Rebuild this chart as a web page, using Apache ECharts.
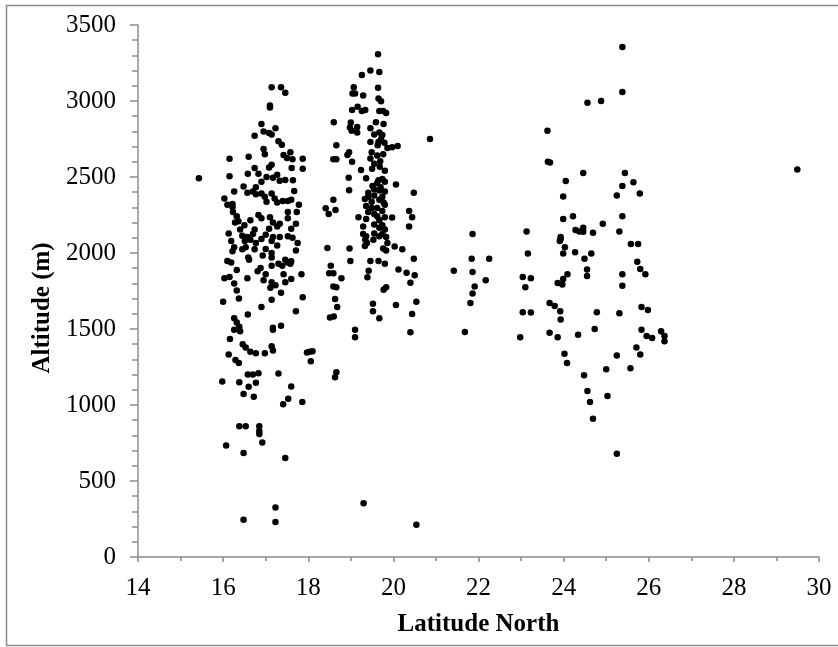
<!DOCTYPE html>
<html>
<head>
<meta charset="utf-8">
<script src="https://cdn.jsdelivr.net/npm/echarts@6/dist/echarts.min.js"></script>
<style>
  html, body { margin: 0; padding: 0; background: #fff; }
  #chart { width: 838px; height: 647px; }
</style>
</head>
<body>
<div id="chart"></div>
<script>
// axes
const xTicks = [14, 16, 18, 20, 22, 24, 26, 28, 30];
const yTicks = [0, 500, 1000, 1500, 2000, 2500, 3000, 3500];

// [latitude, altitude], grouped by band
const outliers = [[15.43, 2492], [29.49, 2549], [20.86, 2750]];

const band16to18 = [
  [17.14, 3090], [17.36, 3090], [17.46, 3055], [17.1, 2970], [17.1, 2957], [16.9, 2848],
  [17.23, 2820], [16.74, 2772], [16.95, 2800], [17.08, 2790], [17.14, 2780], [17.3, 2736],
  [17.38, 2712], [16.95, 2685], [16.98, 2650], [16.6, 2633], [16.15, 2620], [17.42, 2644],
  [17.5, 2625], [17.58, 2663], [17.63, 2617], [17.87, 2620], [17.87, 2554], [17.08, 2562],
  [17.14, 2581], [16.74, 2560], [16.83, 2522], [16.58, 2522], [17.61, 2560], [16.15, 2505],
  [17.02, 2500], [17.17, 2495], [17.27, 2514], [17.33, 2476], [17.46, 2481], [17.64, 2479],
  [16.9, 2468], [16.77, 2432], [16.48, 2438], [16.26, 2405], [16.57, 2397], [16.7, 2405],
  [16.77, 2386], [16.9, 2391], [16.98, 2370], [17.14, 2391], [17.67, 2408], [16.03, 2359],
  [16.1, 2318], [16.22, 2323], [16.22, 2302], [17.02, 2337], [17.21, 2359], [17.27, 2332],
  [17.4, 2342], [17.52, 2342], [17.6, 2350], [17.78, 2318], [16.23, 2269], [16.32, 2242],
  [16.83, 2250], [17.1, 2236], [17.52, 2269], [17.73, 2269], [16.28, 2201], [16.36, 2209],
  [16.64, 2215], [16.9, 2228], [17.17, 2201], [17.33, 2193], [17.52, 2228], [17.71, 2193],
  [16.5, 2182], [16.74, 2155], [16.4, 2155], [17.08, 2160], [17.27, 2174], [17.6, 2160],
  [16.13, 2128], [16.45, 2114], [16.57, 2106], [16.7, 2125], [17.0, 2120], [17.17, 2106],
  [17.33, 2106], [17.52, 2111], [17.63, 2101], [16.19, 2079], [16.51, 2079], [16.64, 2087],
  [16.77, 2065], [16.9, 2092], [17.14, 2079], [17.27, 2049], [17.75, 2065], [16.26, 2038],
  [16.45, 2024], [16.53, 2038], [16.74, 2024], [17.0, 2027], [16.22, 2011], [17.14, 2000],
  [17.71, 2016], [16.59, 1970], [16.61, 1956], [16.93, 1983], [17.14, 1970], [17.46, 1956],
  [17.52, 1937], [17.3, 1929], [16.1, 1948], [16.19, 1937], [17.58, 1929], [17.6, 1945],
  [17.14, 1916], [17.39, 1916], [16.32, 1888], [16.81, 1880], [16.88, 1902], [17.0, 1861],
  [17.42, 1861], [17.84, 1861], [16.03, 1834], [16.15, 1842], [16.57, 1834], [16.95, 1820],
  [17.14, 1807], [17.46, 1807], [17.6, 1829], [16.26, 1799], [17.23, 1788], [16.32, 1753],
  [17.11, 1772], [17.36, 1739], [16.37, 1701], [16.0, 1679], [17.14, 1693], [17.87, 1709],
  [16.9, 1644], [16.58, 1595], [17.71, 1617], [16.26, 1571], [16.32, 1543], [16.38, 1514],
  [16.26, 1495], [16.4, 1486], [17.17, 1508], [17.17, 1495], [17.36, 1522], [16.16, 1435],
  [16.46, 1400], [16.53, 1378], [16.64, 1351], [16.77, 1340], [16.98, 1340], [17.14, 1386],
  [17.17, 1359], [16.13, 1332], [16.29, 1296], [16.37, 1277], [17.97, 1345], [18.03, 1351],
  [18.1, 1353], [18.06, 1288], [17.86, 1019], [16.58, 1201], [16.7, 1201], [16.83, 1209],
  [17.3, 1207], [17.6, 1122], [15.98, 1155], [16.38, 1150], [16.6, 1120], [16.77, 1147],
  [16.48, 1073], [16.72, 1054], [17.53, 1041], [17.41, 1005], [16.38, 861], [16.53, 861],
  [16.85, 861], [16.85, 829], [16.85, 810], [16.92, 753], [16.07, 734], [16.48, 685],
  [17.46, 652], [17.23, 326], [16.48, 245], [17.23, 231]
];

const band18to21 = [
  [19.64, 3307], [19.46, 3201], [19.67, 3190], [19.26, 3171], [19.07, 3090], [19.64, 3087],
  [19.04, 3049], [19.1, 3049], [19.29, 3036], [19.65, 3017], [19.71, 2998], [19.16, 2962],
  [19.03, 2940], [19.26, 2935], [19.34, 2940], [19.67, 2935], [19.76, 2935], [19.83, 2921],
  [18.6, 2861], [19.59, 2861], [19.77, 2848], [19.0, 2859], [18.98, 2826], [19.02, 2804],
  [19.15, 2829], [19.15, 2793], [19.46, 2821], [19.67, 2793], [19.74, 2777], [19.55, 2780],
  [19.71, 2750], [19.46, 2731], [19.65, 2731], [19.79, 2725], [18.66, 2709], [19.63, 2709],
  [19.97, 2696], [20.1, 2704], [19.86, 2690], [19.49, 2663], [18.96, 2663], [18.92, 2644],
  [19.76, 2649], [19.62, 2641], [19.46, 2622], [19.69, 2603], [19.55, 2587], [18.59, 2617],
  [18.66, 2617], [19.03, 2600], [19.68, 2568], [19.8, 2541], [19.24, 2546], [19.5, 2554],
  [18.95, 2495], [19.36, 2492], [19.65, 2479], [19.74, 2487], [19.62, 2460], [19.8, 2468],
  [20.06, 2451], [19.51, 2440], [19.7, 2432], [19.55, 2419], [18.96, 2413], [19.41, 2397],
  [19.67, 2411], [19.8, 2405], [19.41, 2370], [19.55, 2378], [19.74, 2370], [20.48, 2397],
  [19.33, 2356], [19.67, 2351], [18.59, 2351], [19.49, 2337], [19.77, 2332], [19.8, 2318],
  [18.41, 2294], [18.64, 2283], [19.36, 2310], [19.49, 2296], [19.62, 2296], [19.74, 2277],
  [20.37, 2277], [18.48, 2256], [19.18, 2236], [19.41, 2269], [19.55, 2256], [19.62, 2242],
  [19.8, 2236], [19.97, 2234], [20.44, 2236], [19.36, 2223], [19.67, 2215], [19.55, 2188],
  [19.74, 2182], [19.67, 2166], [20.37, 2174], [19.29, 2174], [19.8, 2155], [19.55, 2128],
  [19.74, 2125], [19.29, 2125], [19.36, 2111], [19.67, 2111], [19.83, 2106], [19.53, 2087],
  [19.34, 2087], [19.38, 2065], [19.86, 2065], [19.33, 2046], [18.45, 2033], [18.97, 2030],
  [20.03, 2043], [19.76, 2030], [20.21, 2024], [19.83, 2016], [20.48, 1962], [18.99, 1948],
  [19.46, 1948], [19.65, 1948], [19.8, 1929], [19.42, 1883], [20.12, 1891], [20.31, 1870],
  [20.5, 1853], [18.53, 1916], [18.49, 1867], [18.59, 1867], [18.78, 1834], [19.39, 1840],
  [18.59, 1780], [18.66, 1774], [19.83, 1774], [20.4, 1804], [19.77, 1758], [18.63, 1698],
  [20.54, 1679], [19.52, 1666], [20.06, 1658], [18.68, 1644], [19.52, 1617], [20.44, 1598],
  [18.51, 1576], [18.6, 1582], [19.67, 1571], [19.1, 1495], [19.1, 1446], [20.4, 1478],
  [18.66, 1215], [18.63, 1182], [19.3, 353], [20.54, 212]
];

const band21to23 = [
  [21.42, 1883], [21.86, 2125], [21.84, 1962], [21.86, 1875], [21.91, 1780], [21.86, 1734],
  [21.81, 1671], [22.25, 1962], [22.17, 1821], [21.68, 1481]
];

const band23to27 = [
  [23.13, 2141], [23.16, 1997], [23.04, 1842], [23.23, 1834], [23.1, 1774], [23.04, 1611],
  [23.23, 1609], [22.98, 1446], [23.62, 2804], [23.63, 2600], [23.68, 2595], [24.05, 2473],
  [23.99, 2372], [23.99, 2223], [23.93, 2106], [23.93, 2092], [23.91, 2079], [24.03, 2038],
  [23.99, 1997], [24.09, 1861], [23.99, 1829], [23.86, 1802], [23.97, 1793], [23.67, 1671],
  [23.79, 1652], [23.92, 1617], [23.93, 1563], [23.67, 1476], [23.86, 1446], [24.02, 1337],
  [24.08, 1277], [24.22, 2242], [24.28, 2152], [24.37, 2141], [24.46, 2166], [24.46, 2139],
  [24.27, 2005], [24.49, 1962], [24.55, 1891], [24.55, 1848], [24.46, 2527], [24.65, 1997],
  [24.69, 2133], [24.92, 2193], [24.56, 2989], [24.88, 3000], [24.78, 1611], [24.34, 1462],
  [24.73, 1500], [24.48, 1196], [24.56, 1092], [24.62, 1019], [24.69, 910], [25.0, 1236],
  [25.03, 1060], [25.25, 679], [25.38, 3356], [25.38, 3060], [25.38, 2440], [25.44, 2527],
  [25.25, 2378], [25.38, 2242], [25.31, 2141], [25.64, 2465], [25.79, 2391], [25.58, 2060],
  [25.75, 2060], [25.38, 1861], [25.38, 1785], [25.73, 1943], [25.8, 1894], [25.92, 1861],
  [25.31, 1603], [25.83, 1644], [25.98, 1625], [25.83, 1495], [25.95, 1454], [26.08, 1440],
  [26.29, 1486], [26.37, 1454], [26.37, 1419], [25.71, 1378], [25.8, 1332], [25.25, 1326],
  [25.57, 1242]
];

const points = [].concat(outliers, band16to18, band18to21, band21to23, band23to27);

const chart = echarts.init(document.getElementById('chart'), null, { renderer: 'canvas' });
const serif = 'Liberation Serif';
const axisGrey = '#8c8c8c';

chart.setOption({
  animation: false,
  backgroundColor: '#fff',
  textStyle: { fontFamily: serif, color: '#000' },
  grid: { left: 138, right: 19, top: 25, bottom: 90 },
  xAxis: {
    type: 'value',
    min: xTicks[0],
    max: xTicks[xTicks.length - 1],
    interval: 2,
    name: 'Latitude North',
    nameLocation: 'middle',
    nameGap: 55,
    nameTextStyle: { fontFamily: serif, fontWeight: 'bold', fontSize: 25, color: '#000' },
    axisLine: { show: true, lineStyle: { color: axisGrey, width: 1.5 } },
    axisTick: { show: true, inside: false, length: 5, lineStyle: { color: axisGrey, width: 1.5 } },
    minorTick: { show: true, splitNumber: 2, length: 4, lineStyle: { color: axisGrey, width: 1.5 } },
    axisLabel: { fontFamily: serif, fontSize: 25, color: '#000', margin: 19, formatter: v => String(v) },
    splitLine: { show: false }
  },
  yAxis: {
    type: 'value',
    min: yTicks[0],
    max: yTicks[yTicks.length - 1],
    interval: 500,
    name: 'Altitude (m)',
    nameLocation: 'middle',
    nameGap: 75,
    nameTextStyle: { fontFamily: serif, fontWeight: 'bold', fontSize: 25, color: '#000', padding: [0, 34, 0, 0] },
    axisLine: { show: true, lineStyle: { color: axisGrey, width: 1.5 } },
    axisTick: { show: true, inside: false, length: 8, lineStyle: { color: axisGrey, width: 1.5 } },
    minorTick: { show: true, splitNumber: 5, length: 6, lineStyle: { color: axisGrey, width: 1.5 } },
    axisLabel: { fontFamily: serif, fontSize: 25, color: '#000', margin: 22, formatter: v => String(v) },
    splitLine: { show: false }
  },
  graphic: [{
    type: 'rect',
    shape: { x: 6.5, y: 5.5, width: 840, height: 640 },
    style: { fill: 'none', stroke: axisGrey, lineWidth: 1.5 },
    silent: true
  }],
  series: [{
    type: 'scatter',
    data: points,
    symbol: 'circle',
    symbolSize: 6.5,
    itemStyle: { color: '#000', opacity: 1 }
  }]
});
</script>
</body>
</html>
